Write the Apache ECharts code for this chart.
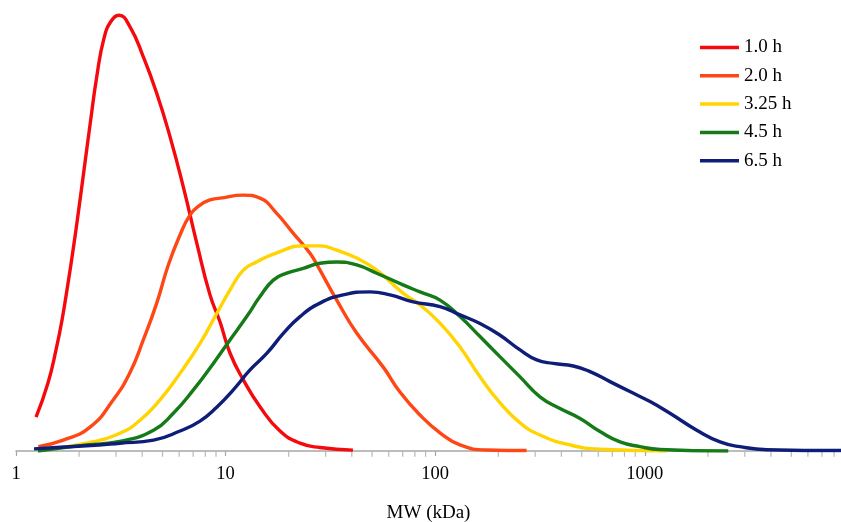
<!DOCTYPE html>
<html>
<head>
<meta charset="utf-8">
<script src="https://cdn.jsdelivr.net/npm/echarts@6/dist/echarts.min.js"></script>
<style>html,body{margin:0;padding:0;background:#fff;}#c{width:841px;height:522px;}</style>
</head>
<body>
<div id="c"></div>
<script>
// ---- data (MW in kDa, relative signal) ----
const seriesNames = ['1.0 h', '2.0 h', '3.25 h', '4.5 h', '6.5 h'];

const h1_x = [1.246, 1.421, 1.552, 1.658, 1.771, 1.871, 1.976, 2.111, 2.255, 2.435, 2.630, 2.840, 3.100, 3.499, 4.049, 4.692, 5.429, 6.283, 7.280, 8.425, 9.40, 10.49, 12.15, 14.59, 18.18, 22.65, 28.2, 40.5];
const h1_y = [7.8, 15.7, 23.3, 30.2, 38.7, 46.3, 54.4, 64.8, 75.2, 86.7, 95.2, 99.1, 100.5, 97.8, 90.9, 82.5, 72.5, 60.9, 48.0, 36.0, 29.8, 22.6, 16.4, 10.2, 4.6, 1.8, 0.8, 0.2];

const h2_x = [1.278, 1.681, 2.255, 2.912, 3.499, 4.049, 4.692, 5.329, 6.06, 6.76, 7.548, 8.425, 9.40, 12.15, 14.59, 17.53, 21.04, 25.27, 27.6, 33.9, 42.2, 56.4, 67.9, 84.6, 105.4, 131.3, 176, 273];
const h2_y = [1.0, 2.5, 5.5, 11.8, 18.1, 25.6, 34.1, 42.9, 49.8, 54.4, 56.7, 57.9, 58.3, 59.0, 58.3, 54.8, 50.2, 45.6, 42.5, 34.8, 27.2, 19.4, 13.6, 8.3, 4.2, 1.4, 0.23, 0.1];

const h3_x = [1.273, 2.175, 3.13, 3.905, 4.864, 6.06, 7.548, 9.07, 10.49, 12.15, 14.07, 17.53, 23.4, 28.2, 33.9, 42.2, 52.6, 70.2, 84.6, 105.4, 131.3, 163.6, 204, 254, 316, 440, 611, 1272];
const h3_y = [0.1, 1.8, 4.1, 7.1, 11.8, 17.9, 24.8, 31.7, 37.1, 41.7, 43.6, 45.7, 47.3, 47.3, 46.3, 44.5, 41.7, 36.4, 33.7, 29.5, 24.0, 17.1, 11.1, 6.5, 3.7, 1.4, 0.4, 0];

const h4_x = [1.273, 2.175, 3.13, 4.53, 5.63, 7.02, 8.74, 10.49, 12.61, 14.59, 16.89, 19.56, 23.48, 28.2, 33.9, 42.2, 52.6, 70.2, 84.6, 105.4, 131.3, 163.6, 204, 254, 316, 394, 491, 611, 762, 948, 1182, 2501];
const h4_y = [0, 1.4, 2.2, 4.8, 8.7, 14.1, 20.2, 25.6, 31.0, 35.6, 39.4, 41.0, 42.1, 43.3, 43.6, 42.9, 41.0, 38.3, 36.7, 34.8, 31.0, 26.4, 21.7, 17.1, 12.5, 9.8, 7.5, 4.5, 2.1, 1.0, 0.35, 0];

const h5_x = [1.219, 2.175, 3.13, 4.53, 6.06, 7.548, 9.07, 10.88, 13.08, 15.71, 18.85, 22.65, 28.2, 36.4, 48.9, 60.9, 78.6, 105.4, 131.3, 163.6, 204, 254, 305, 366, 456, 548, 682, 849, 1059, 1318, 1769, 2285, 2845, 3816, 8630];
const h5_y = [0.5, 1.2, 1.8, 2.5, 4.6, 6.9, 10.1, 14.1, 18.7, 22.5, 27.1, 31.0, 34.1, 36.0, 36.7, 36.0, 34.4, 33.3, 31.4, 29.4, 26.7, 23.3, 21.0, 20.2, 19.6, 18.3, 16.0, 13.7, 11.4, 8.7, 4.8, 2.1, 1.0, 0.3, 0.1];

const minorTickValues = [2,3,4,5,6,7,8,9,20,30,40,50,60,70,80,90,200,300,400,500,600,700,800,900,2000,3000,4000,5000,6000,7000,8000];
const xAxisName = 'MW (kDa)';

// ---- chart ----
const colors = ['#f5090d', '#ff4715', '#ffd400', '#157a18', '#0e1e78'];
const xs = [h1_x, h2_x, h3_x, h4_x, h5_x];
const ys = [h1_y, h2_y, h3_y, h4_y, h5_y];
const FONT = '"Liberation Serif", "DejaVu Serif", serif';

const lineSeries = seriesNames.map((name, i) => ({
  name: name,
  type: 'line',
  data: xs[i].map((x, j) => [x, ys[i][j]]),
  smooth: 0.5,
  showSymbol: false,
  symbol: 'none',
  lineStyle: { width: 3.4, color: colors[i] },
  itemStyle: { color: colors[i] },
  z: 3 + i,
  animation: false
}));

const chart = echarts.init(document.getElementById('c'), null, { renderer: 'canvas' });
chart.setOption({
  animation: false,
  backgroundColor: '#ffffff',
  grid: { left: 16, right: 0, top: 0, bottom: 71, containLabel: false, outerBoundsMode: 'none' },
  legend: {
    data: seriesNames,
    orient: 'vertical',
    left: 700,
    top: 36.5,
    padding: 0,
    icon: 'rect',
    itemWidth: 39,
    itemHeight: 3.5,
    itemGap: 6.3,
    itemTextGap: 5,
    textStyle: { fontFamily: FONT, fontSize: 19, lineHeight: 22, color: '#000' }
  },
  xAxis: {
    type: 'log',
    logBase: 10,
    min: 1,
    max: 8630,
    axisLine: { show: true, lineStyle: { color: '#a6a6a6', width: 1.5 } },
    axisTick: { show: true, length: 5, lineStyle: { color: '#a6a6a6', width: 1.2 } },
    splitLine: { show: false },
    axisLabel: {
      showMaxLabel: false,
      margin: 14,
      fontFamily: FONT,
      fontSize: 18.5,
      color: '#000',
      formatter: function (v) {
        const l = Math.log10(v);
        return Math.abs(l - Math.round(l)) < 1e-6 ? String(Math.round(v)) : '';
      }
    },
    name: xAxisName,
    nameLocation: 'middle',
    nameGap: 53,
    nameTextStyle: { fontFamily: FONT, fontSize: 19, color: '#000' }
  },
  yAxis: {
    type: 'value',
    min: 0,
    max: 104,
    show: false,
    splitLine: { show: false }
  },
  series: lineSeries.concat([{
    name: 'minorTicks',
    type: 'scatter',
    data: minorTickValues.map(v => [v, 0]),
    symbol: 'rect',
    symbolSize: [1.2, 5],
    symbolOffset: [0, 3.2],
    itemStyle: { color: '#a6a6a6' },
    clip: false,
    silent: true,
    z: 1,
    animation: false
  }])
});
</script>
</body>
</html>
